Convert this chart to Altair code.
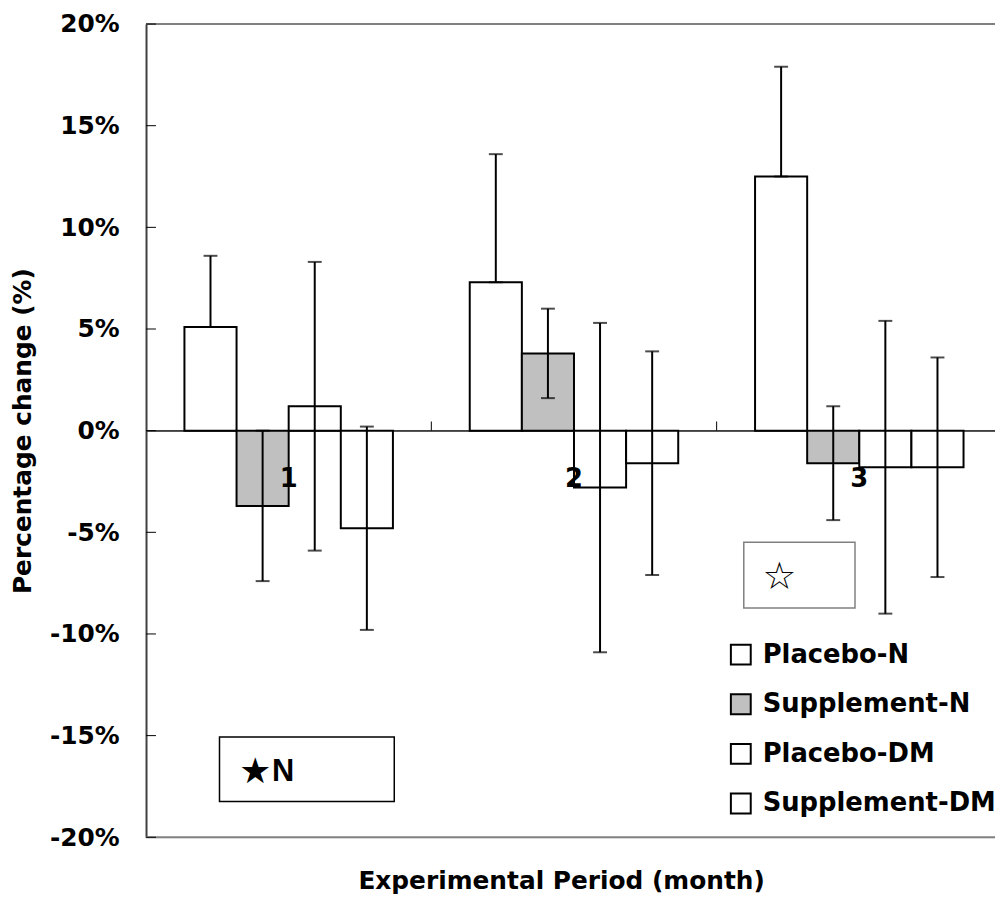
import altair as alt
import pandas as pd

# ---- data ----
periods = ["1", "2", "3"]
series = ["Placebo-N", "Supplement-N", "Placebo-DM", "Supplement-DM"]
fills = ["white", "#c0c0c0", "white", "white"]

placebo_n = [5.1, 7.3, 12.5]
placebo_n_lo = [5.1, 7.3, 12.5]      # plus-only error bars
placebo_n_hi = [8.6, 13.6, 17.9]

supp_n = [-3.7, 3.8, -1.6]
supp_n_lo = [-7.4, 1.6, -4.4]
supp_n_hi = [0.0, 6.0, 1.2]

placebo_dm = [1.2, -2.8, -1.8]
placebo_dm_lo = [-5.9, -10.9, -9.0]
placebo_dm_hi = [8.3, 5.3, 5.4]

supp_dm = [-4.8, -1.6, -1.8]
supp_dm_lo = [-9.8, -7.1, -7.2]
supp_dm_hi = [0.2, 3.9, 3.6]

y_ticks = [-20, -15, -10, -5, 0, 5, 10, 15, 20]
band_starts = ["2", "3"]

values = [placebo_n, supp_n, placebo_dm, supp_dm]
lows = [placebo_n_lo, supp_n_lo, placebo_dm_lo, supp_dm_lo]
highs = [placebo_n_hi, supp_n_hi, placebo_dm_hi, supp_dm_hi]

rows = []
for s, v, lo, hi in zip(series, values, lows, highs):
    for i, p in enumerate(periods):
        rows.append({"period": p, "series": s, "value": v[i], "lo": lo[i], "hi": hi[i]})
df = pd.DataFrame(rows)

FONT = "DejaVu Sans"
W, H = 855, 819

x_scale = alt.Scale(domain=periods, range=[0, 862], paddingInner=0, paddingOuter=0)
xo_scale = alt.Scale(domain=series, paddingInner=0, paddingOuter=0.737)
y_scale = alt.Scale(domain=[-20, 20], nice=False, zero=False)

x_axis = alt.Axis(
    orient="bottom", offset=-409.5, domain=False, ticks=False, labelAngle=0,
    labelFont=FONT, labelFontWeight="bold", labelFontSize=26, labelColor="black",
    labelPadding=35, title="Experimental Period (month)", titleFont=FONT,
    titleFontWeight="bold", titleFontSize=25, titleColor="black",
    titleX=418, titleY=461, titleAlign="center", titleBaseline="alphabetic", zindex=1,
)
y_axis = alt.Axis(
    values=y_ticks, labelExpr="datum.value + '%'", ticks=False, grid=False,
    domainColor="#404040", domainWidth=2,
    labelFont=FONT, labelFontWeight="bold", labelFontSize=25, labelColor="black",
    labelPadding=27, title="Percentage change (%)", titleFont=FONT,
    titleFontWeight="bold", titleFontSize=25, titleColor="black",
    titleX=-124, titleY=409.5, titleAngle=270, titleAlign="center", titleBaseline="middle",
)

base = alt.Chart(df)

zero_line = base.mark_rule(color="#404040", strokeWidth=1).encode(y=alt.datum(0, scale=y_scale))

bars = base.mark_bar(stroke="black", strokeWidth=2).encode(
    x=alt.X("period:N", scale=x_scale, axis=x_axis),
    xOffset=alt.XOffset("series:N", scale=xo_scale),
    y=alt.Y("value:Q", scale=y_scale, axis=y_axis),
    fill=alt.Fill(
        "series:N", scale=alt.Scale(domain=series, range=fills),
        legend=alt.Legend(
            orient="none", legendX=586, legendY=622, title=None,
            symbolType="square", symbolSize=400, symbolStrokeColor="black",
            symbolStrokeWidth=2, labelFont=FONT, labelFontWeight="bold",
            labelFontSize=26, labelColor="black", labelOffset=9, rowPadding=22,
            labelLimit=400,
        ),
    ),
)

err = base.mark_rule(color="black", strokeWidth=2).encode(
    x=alt.X("period:N", scale=x_scale),
    xOffset=alt.XOffset("series:N", scale=xo_scale),
    y=alt.Y("lo:Q", scale=y_scale),
    y2="hi:Q",
)

caps = base.transform_fold(["lo", "hi"], as_=["end", "ev"]).mark_tick(
    color="black", size=14, thickness=2
).encode(
    x=alt.X("period:N", scale=x_scale),
    xOffset=alt.XOffset("series:N", scale=xo_scale),
    y=alt.Y("ev:Q", scale=y_scale),
)

border_df = pd.DataFrame({"b": [-20, 20]})
borders = alt.Chart(border_df).mark_rule(color="#808080", strokeWidth=2).encode(
    y=alt.Y("b:Q", scale=y_scale)
)

tick_df = pd.DataFrame({"t": y_ticks})
y_tick_marks = alt.Chart(tick_df).mark_rule(color="black", strokeWidth=1).encode(
    y=alt.Y("t:Q", scale=y_scale), x=alt.value(0), x2=alt.value(10)
)

bt_df = pd.DataFrame({"period": band_starts})
band_ticks = alt.Chart(bt_df).mark_rule(color="black", strokeWidth=1).encode(
    x=alt.X("period:N", scale=x_scale, bandPosition=0),
    y=alt.datum(0, scale=y_scale), y2=alt.datum(0.45),
)

one = alt.Data(values=[{"k": 1}])
box1 = alt.Chart(one).mark_rect(fill="white", stroke="black", strokeWidth=1.5).encode(
    x=alt.value(74), x2=alt.value(250), y=alt.value(718), y2=alt.value(783)
)
star1 = alt.Chart(one).mark_text(text="★", font=FONT, fontSize=36, color="black",
                                 align="center", baseline="middle").encode(
    x=alt.value(110), y=alt.value(753)
)
n1 = alt.Chart(one).mark_text(text="N", font="Liberation Sans", fontWeight="bold",
                              fontSize=31, color="black", align="center",
                              baseline="alphabetic").encode(
    x=alt.value(138), y=alt.value(762)
)
box2 = alt.Chart(one).mark_rect(fill="white", stroke="#808080", strokeWidth=1.5).encode(
    x=alt.value(602), x2=alt.value(714), y=alt.value(522), y2=alt.value(588)
)
star2 = alt.Chart(one).mark_text(text="☆", font=FONT, fontSize=38, color="black",
                                 align="center", baseline="middle").encode(
    x=alt.value(638), y=alt.value(558)
)

chart = alt.layer(
    zero_line, bars, err, caps, borders, y_tick_marks, band_ticks,
    box1, star1, n1, box2, star2,
).properties(
    width=W, height=H,
    padding={"left": 139, "top": 13, "right": 0, "bottom": 58},
    autosize=alt.AutoSizeParams(type="none"),
).configure_view(stroke=None).configure(background="white")

chart.save("out.html", embed_options={"renderer": "svg", "actions": False})
